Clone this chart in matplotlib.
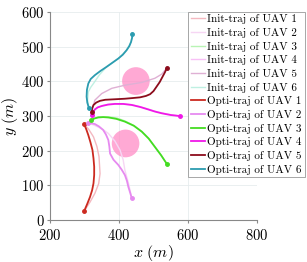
import matplotlib
matplotlib.use('Agg')
import matplotlib.pyplot as plt
from matplotlib.patches import Circle

plt.rcParams['font.family'] = ['cmr10', 'DejaVu Serif']
plt.rcParams['mathtext.fontset'] = 'cm'
plt.rcParams['axes.formatter.use_mathtext'] = True

# --- obstacles (center x, center y, radius) ---
obs_x = [449, 419]
obs_y = [401, 221]
obs_r = [40, 40]

# --- initial trajectories ---
init1_x = [299, 312, 326, 336, 342, 345, 341, 330, 316, 299]
init1_y = [276, 262, 240, 212, 183, 134, 105, 77, 52, 26]
init2_x = [311, 325, 340, 355, 369, 388, 403, 412, 417, 428, 437]
init2_y = [279, 275, 268, 260, 250, 228, 202, 174, 144, 104, 63]
init3_x = [319, 340, 369, 395, 417, 443, 466, 486, 504, 522, 538]
init3_y = [288, 298, 298, 294, 286, 273, 256, 236, 212, 188, 163]
init4_x = [323, 330, 350, 368, 388, 412, 437, 462, 485, 504, 524, 550, 577]
init4_y = [303, 320, 330, 334, 336, 335, 333, 327, 320, 314, 309, 304, 300]
init5_x = [321, 330, 350, 379, 417, 466, 504, 524, 539]
init5_y = [312, 346, 365, 380, 389, 397, 409, 421, 439]
init6_x = [313, 309, 311, 318, 326, 344, 364, 398, 422, 435, 439]
init6_y = [322, 346, 370, 383, 394, 420, 442, 466, 490, 514, 538]

# --- optimised trajectories ---
opti1_x = [299, 305, 311, 317, 323, 326, 328, 328, 326, 322, 316, 308, 299]
opti1_y = [276, 262, 245, 225, 202, 178, 154, 130, 106, 86, 67, 47, 26]
opti2_x = [311, 320, 330, 342, 354, 362, 369, 372, 374, 384, 398, 408, 417, 423, 427, 432, 437]
opti2_y = [279, 279, 277, 270, 260, 247, 231, 212, 192, 174, 159, 145, 130, 113, 96, 80, 63]
opti3_x = [319, 328, 340, 354, 369, 392, 417, 443, 466, 486, 504, 522, 538]
opti3_y = [288, 293, 296, 297, 296, 292, 284, 272, 255, 235, 211, 187, 163]
opti4_x = [323, 325, 330, 338, 350, 368, 388, 412, 437, 462, 485, 504, 524, 550, 577]
opti4_y = [303, 312, 319, 325, 329, 333, 335, 335, 332, 326, 319, 313, 308, 303, 300]
opti5_x = [321, 322, 326, 334, 345, 360, 379, 398, 417, 440, 461, 478, 490, 500, 509, 518, 526, 533, 539]
opti5_y = [312, 322, 332, 339, 344, 347, 348, 349, 350, 352, 354, 358, 363, 372, 385, 398, 413, 426, 439]
opti6_x = [313, 308, 306, 307, 311, 318, 330, 346, 364, 381, 398, 411, 422, 430, 435, 438, 439]
opti6_y = [322, 339, 356, 376, 394, 407, 418, 430, 442, 454, 466, 477, 490, 502, 514, 526, 538]

init_x = [init1_x, init2_x, init3_x, init4_x, init5_x, init6_x]
init_y = [init1_y, init2_y, init3_y, init4_y, init5_y, init6_y]
opti_x = [opti1_x, opti2_x, opti3_x, opti4_x, opti5_x, opti6_x]
opti_y = [opti1_y, opti2_y, opti3_y, opti4_y, opti5_y, opti6_y]

init_colors = ['#f4b8c0', '#f6d6f4', '#b8f4b4', '#f8c0f6', '#dfb0d4', '#bff0e2']
opti_colors = ['#cc2a20', '#e68af0', '#44dc22', '#f018e8', '#8c0c1c', '#2c9cb0']

fig = plt.figure(figsize=(3.07, 2.62), dpi=100)
ax = fig.add_axes([0.163, 0.160, 0.674, 0.794])

for cx, cy, r in zip(obs_x, obs_y, obs_r):
    ax.add_patch(Circle((cx, cy), r, facecolor='#ff8cc6', edgecolor='none', alpha=0.75, zorder=2))

for i in range(6):
    ax.plot(init_x[i], init_y[i], color=init_colors[i], lw=1.0, zorder=3,
            solid_joinstyle='round', label=f'Init-traj of UAV {i + 1}')
for i in range(6):
    ax.plot(opti_x[i], opti_y[i], color=opti_colors[i], lw=1.3, zorder=4,
            solid_joinstyle='round', label=f'Opti-traj of UAV {i + 1}')
    ax.plot([opti_x[i][0], opti_x[i][-1]], [opti_y[i][0], opti_y[i][-1]], 'o',
            color=opti_colors[i], ms=2.5, zorder=5)

ax.set_xlim(200, 800)
ax.set_ylim(0, 600)
ax.set_xticks([200, 400, 600, 800])
ax.set_yticks([0, 100, 200, 300, 400, 500, 600])
ax.tick_params(labelsize=10.5, length=2, color='#888888')
ax.tick_params(axis='x', pad=4)
ax.tick_params(axis='y', pad=2)
ax.grid(True, color='#e6ecee', lw=0.6)
ax.set_axisbelow(True)
for s in ['top', 'right']:
    ax.spines[s].set_visible(False)
for s in ['left', 'bottom']:
    ax.spines[s].set_color('#888888')
    ax.spines[s].set_linewidth(0.8)
ax.set_xlabel(r'$x\ (m)$', fontsize=11.5, labelpad=0)
ax.set_ylabel(r'$y\ (m)$', fontsize=11.5, labelpad=1)

leg = fig.legend(loc='upper left', bbox_to_anchor=(0.612, 0.956), fontsize=8,
                 labelspacing=0.33, handlelength=1.3, handletextpad=0.2,
                 borderpad=0.25, borderaxespad=0, fancybox=False, framealpha=1)
leg.get_frame().set_edgecolor('#999999')
leg.get_frame().set_linewidth(0.6)

fig.savefig('out.png', dpi=100)
